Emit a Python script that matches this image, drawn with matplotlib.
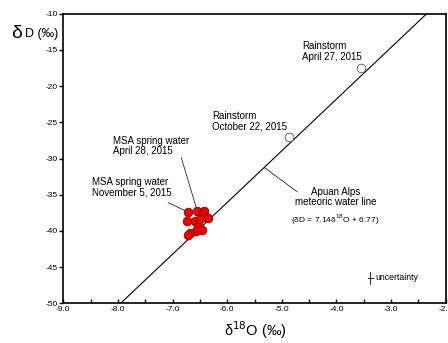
import numpy as np
import matplotlib
matplotlib.use("Agg")
import matplotlib.pyplot as plt
from matplotlib.ticker import MultipleLocator, FormatStrFormatter

plt.rcParams['font.family'] = ['Liberation Sans', 'DejaVu Sans']

# spring water samples (MSA)
spring_d18o = [-6.71, -6.55, -6.43, -6.46, -6.36, -6.73, -6.59, -6.53, -6.47, -6.57, -6.68, -6.71, -6.50]
spring_dd = [-37.4, -37.2, -37.2, -37.8, -38.2, -38.6, -38.6, -39.3, -39.9, -40.0, -40.3, -40.6, -38.3]

# rainstorm samples
rain_d18o = [-3.55, -4.87]
rain_dd = [-17.5, -27.0]

# Apuan Alps meteoric water line
mwl_slope = 7.14
mwl_icpt = 6.77

fig = plt.figure(figsize=(4.48, 3.43), dpi=100)
ax = fig.add_axes([0.1413, 0.1157, 0.8537, 0.8443])

xs = np.array([-9.0, -2.0])
ax.plot(xs, mwl_slope * xs + mwl_icpt, color='black', lw=0.8, zorder=2)

ax.plot(spring_d18o, spring_dd, 'o', ms=6.2, mfc='#ee0000', mec='#880000', mew=0.6, zorder=3)
ax.plot(rain_d18o, rain_dd, 'o', ms=6.2, mfc='white', mec='#555555', mew=0.6, zorder=3)

ax.set_xlim(-9.0, -2.0)
ax.set_ylim(-50, -10)
ax.xaxis.set_major_locator(MultipleLocator(1.0))
ax.xaxis.set_minor_locator(MultipleLocator(0.5))
ax.yaxis.set_major_locator(MultipleLocator(5))
ax.xaxis.set_major_formatter(FormatStrFormatter('%.1f'))
ax.yaxis.set_major_formatter(FormatStrFormatter('%d'))
ax.tick_params(axis='x', which='both', direction='in', length=3, width=1, labelsize=6, pad=2)
ax.tick_params(axis='y', direction='out', length=3, width=1, labelsize=6, pad=1)
for s in ax.spines.values():
    s.set_linewidth(1.2)

# annotations
fs = 7
ls = 1.05
ax.text(-4.63, -13.8, 'Rainstorm\nApril 27, 2015', fontsize=fs, va='top', ha='left', linespacing=ls)
ax.text(-6.28, -23.5, 'Rainstorm\nOctober 22, 2015', fontsize=fs, va='top', ha='left', linespacing=ls)
ax.text(-8.09, -26.9, 'MSA spring water\nApril 28, 2015', fontsize=fs, va='top', ha='left', linespacing=ls)
ax.text(-8.47, -32.6, 'MSA spring water\nNovember 5, 2015', fontsize=fs, va='top', ha='left', linespacing=ls)
ax.plot([-6.84, -6.57], [-29.9, -36.7], color='black', lw=0.5)
ax.plot([-7.08, -6.77], [-36.1, -37.2], color='black', lw=0.5)

ax.text(-4.02, -33.9, 'Apuan Alps\nmeteoric water line', fontsize=fs, va='top', ha='center', linespacing=ls)
ax.text(-4.02, -37.5, '(δD = 7.14δ$^{18}$O + 6.77)', fontsize=6, va='top', ha='center')
ax.plot([-5.31, -4.72], [-31.3, -34.6], color='black', lw=0.5)

# uncertainty bar
ax.plot([-3.38, -3.38], [-47.3, -45.7], color='black', lw=0.6)
ax.plot([-3.42, -3.34], [-46.5, -46.5], color='black', lw=0.6)
ax.text(-3.28, -46.5, 'uncertainty', fontsize=6.3, va='center', ha='left')

# axis labels
fig.text(0.025, 0.902, 'δ', fontsize=14, va='center', ha='left')
fig.text(0.056, 0.902, 'D (‰)', fontsize=9, va='center', ha='left')
fig.text(0.57, 0.038, 'δ$^{18}$O (‰)', fontsize=10.5, va='center', ha='center')

fig.savefig('out.png', dpi=100)
